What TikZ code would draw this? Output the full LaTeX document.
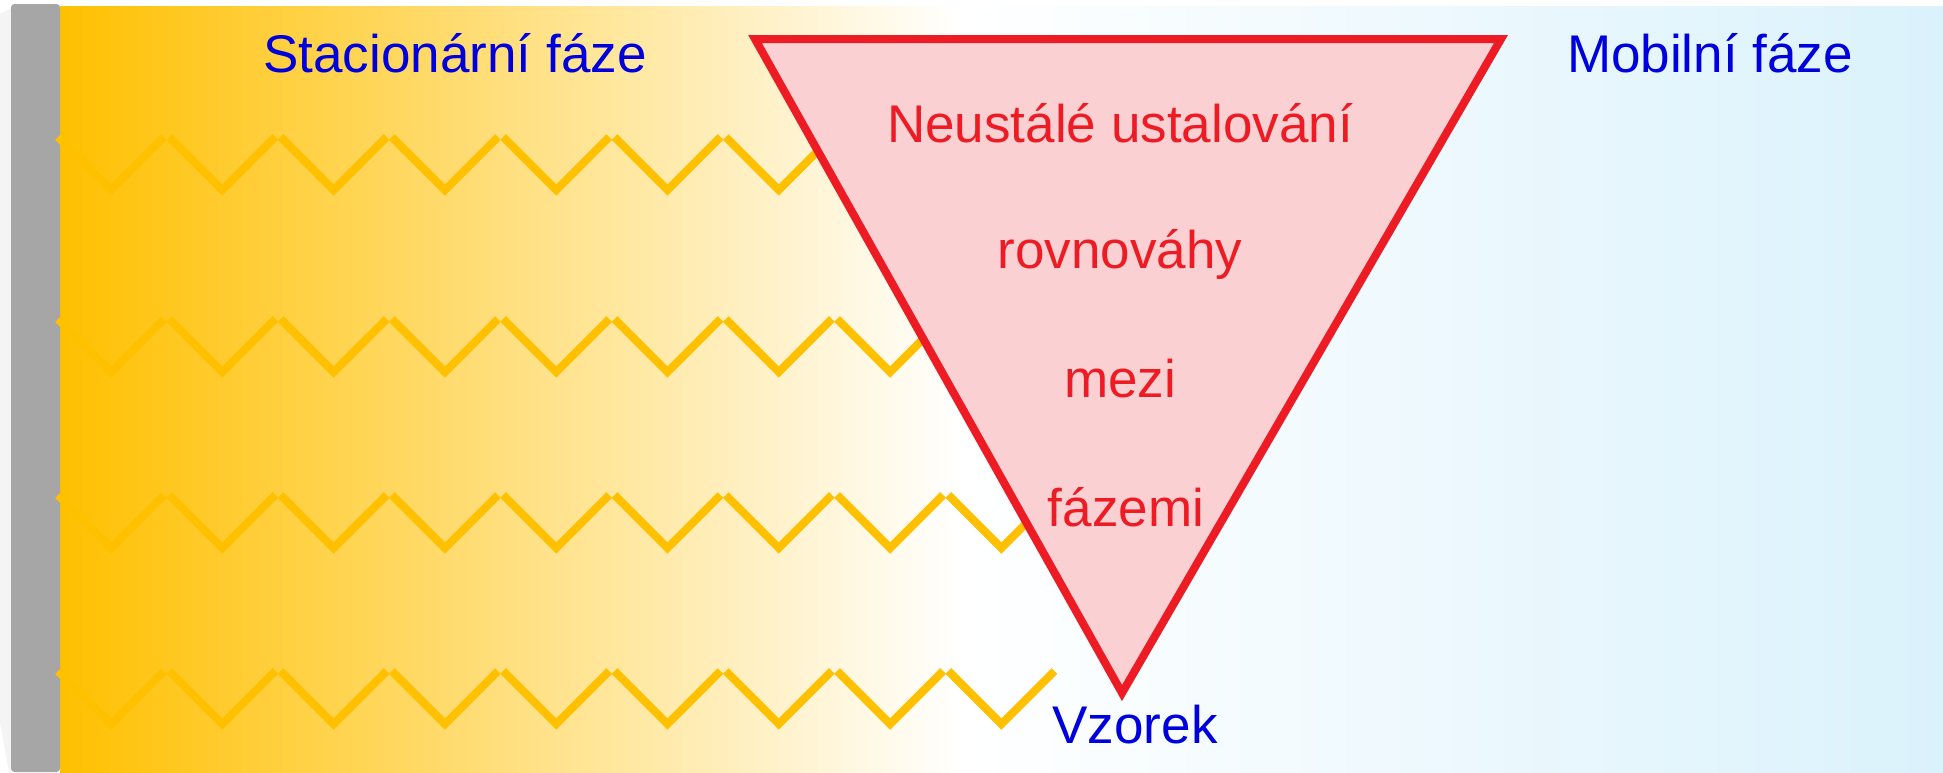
\documentclass[tikz,border=0pt]{standalone}
\usepackage{fontspec}
\setmainfont{Liberation Sans}
\definecolor{orng}{RGB}{255,192,0}
\definecolor{ltblue}{RGB}{218,242,252}
\definecolor{trired}{RGB}{237,28,36}
\definecolor{tripink}{RGB}{251,208,211}
\definecolor{txtblue}{RGB}{0,0,221}
\definecolor{bargray}{RGB}{166,166,166}
\definecolor{shadowgray}{RGB}{244,244,244}
\begin{document}
\begin{tikzpicture}[x=0.01cm,y=-0.01cm,
  lbl/.style={font=\fontsize{15.08}{18}\selectfont, inner sep=0pt, anchor=base},
  bluelbl/.style={lbl, text=txtblue},
  redlbl/.style={lbl, text=trired},
  zz/.style={draw=orng, line width=0.08cm, line cap=butt, line join=miter},
  tri/.style={draw=trired, fill=tripink, line width=0.08cm, line join=miter},
]
\useasboundingbox (0,0) rectangle (1943,772);
\fill[white] (0,0) rectangle (1943,772);
% background gradients
\shade[left color=orng, right color=white] (60,6) rectangle (960,772);
\shade[left color=white, right color=ltblue] (960,6) rectangle (1943,772);
% wall shadow and wall
\fill[shadowgray] (0,14) -- (11,8) -- (11,772) -- (9,772) -- (0,722) -- cycle;
\fill[bargray, rounded corners=1] (11,4) rectangle (60,772);
% zigzag chains
\foreach \py/\n in {137/7, 319/8, 495/9, 671/9} {
  \foreach \k in {1,...,\n} {
    \pgfmathsetmacro\sx{58+(\k-1)*111.3}
    \draw[zz] (\sx,\py) -- ++(53,53) -- ++(53,-53);
  }
}
% triangle
\coordinate (tl) at (755,39);
\coordinate (tr) at (1501,39);
\coordinate (ap) at (1122,693);
\draw[tri] (tl) -- (tr) -- (ap) -- cycle;
% labels
\node[bluelbl] (stat) at (455,72) {Stacionární fáze};
\node[bluelbl] (mob) at (1710,72) {Mobilní fáze};
\node[redlbl] (t1) at (1120,142) {Neustálé ustalování};
\node[redlbl] (t2) at (1120,268) {rovnováhy};
\node[redlbl] (t3) at (1120,397) {mezi};
\node[redlbl] (t4) at (1126,526) {fázemi};
\node[bluelbl] (vz) at (1135,743) {Vzorek};
\end{tikzpicture}
\end{document}
